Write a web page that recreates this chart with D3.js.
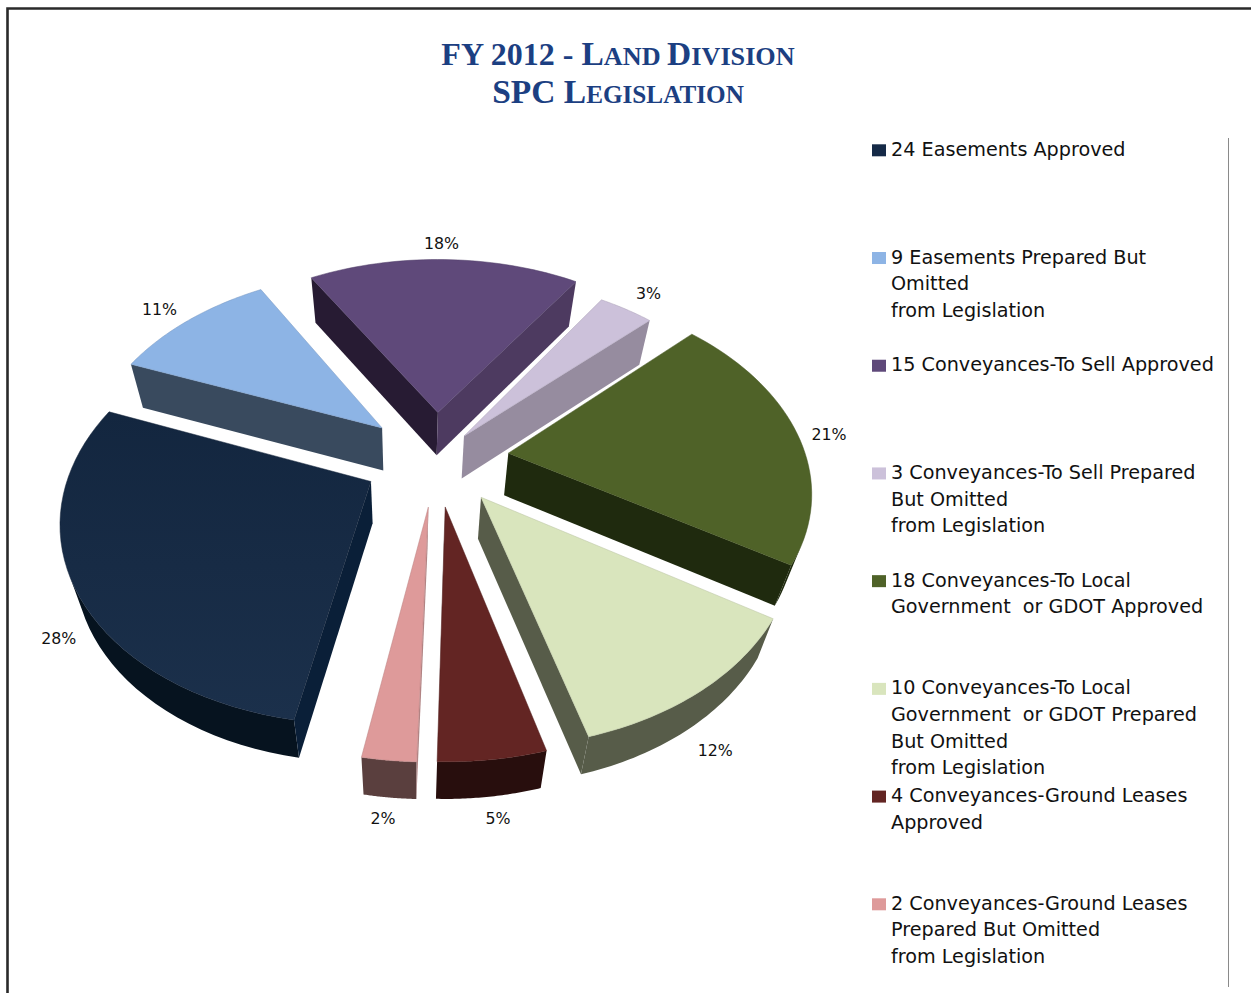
<!DOCTYPE html>
<html>
<head>
<meta charset="utf-8">
<script src="https://cdnjs.cloudflare.com/ajax/libs/d3/7.8.5/d3.min.js"></script>
<style>
  html, body { margin: 0; padding: 0; background: #fff; }
  svg { display: block; }
</style>
</head>
<body>
<svg id="chart" width="1251" height="993"></svg>
<script>
// Land Division SPC legislation counts for FY 2012 and their printed percentages
const counts = [24, 9, 15, 3, 18, 10, 4, 2];
const percentLabels = ["28%", "11%", "18%", "3%", "21%", "12%", "5%", "2%"];
const legendLines = [
  ["24 Easements Approved"],
  ["9 Easements Prepared But", "Omitted", "from Legislation"],
  ["15 Conveyances-To Sell Approved"],
  ["3 Conveyances-To Sell Prepared", "But Omitted", "from Legislation"],
  ["18 Conveyances-To Local", "Government  or GDOT Approved"],
  ["10 Conveyances-To Local", "Government  or GDOT Prepared", "But Omitted", "from Legislation"],
  ["4 Conveyances-Ground Leases", "Approved"],
  ["2 Conveyances-Ground Leases", "Prepared But Omitted", "from Legislation"]
];
const topColors   = ["#182c47", "#8db4e5", "#5f497a", "#ccc1da", "#4f6228", "#d9e5bd", "#632523", "#de9a9a"];
const wallColors  = ["#06131f", "#394a5e", "#271b33", "#968c9f", "#1f2a0e", "#575c49", "#280e0d", "#5a3f3e"];
const startColors = ["#0a1f38", "#394a5e", "#271b33", "#968c9f", "#1f2a0e", "#575c49", "#280e0d", "#b08484"];
const endColors   = ["#0a1f38", "#394a5e", "#4d3a60", "#968c9f", "#1f2a0e", "#575c49", "#280e0d", "#5a3f3e"];
const legendSwatches = ["#152a47", "#8db4e5", "#5f497a", "#ccc1da", "#4f6228", "#d9e5bd", "#632523", "#de9a9a"];
const explodeBy = [0.245, 0.245, 0.245, 0.15, 0.245, 0.245, 0.245, 0.245];

// Tilted view of the pie: a homography from the unit disc to the page
const view = { cx: 436, cy: 458, sx: 298, sy: 193, persp: 0.169, first: 190 };
const project = (x, y) => {
  const w = 1 - view.persp * y;
  return [view.cx + view.sx * x / w, view.cy + view.sy * y / w];
};
// Lower rim of a point on the top face, converging towards the vanishing point
const drop = ([x, y]) => [x + (410 - x) * 0.043, y + 42 - 0.016 * (y - 460)];

const svg = d3.select("#chart");
const polygon = d3.line().curve(d3.curveLinearClosed);
// Positive when the points run clockwise on the page
const turn = pts => -d3.polygonArea(pts);

const toRad = d => d * Math.PI / 180;
const pie = d3.pie().sort(null).value(d => d)
  .startAngle(toRad(view.first)).endAngle(toRad(view.first + 360));

const slices = pie(counts).map((arc, i) => {
  const mid = (arc.startAngle + arc.endAngle) / 2;
  const ox = explodeBy[i] * Math.sin(mid), oy = -explodeBy[i] * Math.cos(mid);
  const at = (t, r) => project(ox + r * Math.sin(t), oy - r * Math.cos(t));
  const samples = d3.range(0, 41).map(k => arc.startAngle + (arc.endAngle - arc.startAngle) * k / 40);
  return { i, arc, mid, at, rim: samples.map(t => at(t, 1)), apex: at(0, 0) };
});

// Back slices first so nearer ones paint over them
const ordered = slices.slice().sort((a, b) => a.apex[1] - b.apex[1]);

const defs = svg.append("defs");
const navy = defs.append("linearGradient").attr("id", "navyTop")
  .attr("x1", 0).attr("y1", 0).attr("x2", 0).attr("y2", 1);
navy.append("stop").attr("offset", 0).attr("stop-color", "#13263f");
navy.append("stop").attr("offset", 1).attr("stop-color", "#1b304b");

const pieGroup = svg.append("g");
ordered.forEach(s => {
  const g = pieGroup.append("g");
  const first = s.rim[0], last = s.rim[s.rim.length - 1];

  // Outer wall: only the stretch of the rim facing the viewer
  let run = [];
  const flush = () => {
    if (run.length > 1) {
      const pts = run.concat(run.slice().reverse().map(p => drop(p)));
      g.append("path").attr("d", polygon(pts)).attr("fill", wallColors[s.i]);
    }
    run = [];
  };
  for (let k = 0; k < s.rim.length - 1; k++) {
    const a = s.rim[k], b = s.rim[k + 1];
    if (turn([a, b, drop(b), drop(a)]) < 0) {
      if (!run.length) run.push(a);
      run.push(b);
    } else flush();
  }
  flush();

  // Cut faces along the two radii
  const startFace = [s.apex, first, drop(first), drop(s.apex)];
  const endFace = [s.apex, last, drop(last), drop(s.apex)];
  if (turn(startFace) < 0) {
    g.append("path").attr("d", polygon(startFace)).attr("fill", startColors[s.i]);
  }
  if (turn(endFace) > 0) {
    g.append("path").attr("d", polygon(endFace)).attr("fill", endColors[s.i]);
  }

  // Top face
  g.append("path")
    .attr("d", polygon([s.apex, ...s.rim]))
    .attr("fill", s.i === 0 ? "url(#navyTop)" : topColors[s.i])
    .attr("stroke", d3.color(topColors[s.i]).darker(0.5))
    .attr("stroke-width", 0.5);
});

// Percentage labels sit just outside each slice's arc
const labelFont = "'DejaVu Sans', sans-serif";
const labelPush = [1.12, 1.07, 1.06, 1.10, 1.08, 1.10, 1.14, 1.14];
const labelNudge = [[23, 37], [-17, -3], [-3, -7], [8, -4], [9, 3], [-13, 39], [-3, 16], [1, 15]];
svg.append("g").selectAll("text").data(slices).join("text")
  .attr("x", d => d.at(d.mid, labelPush[d.i])[0] + labelNudge[d.i][0])
  .attr("y", d => d.at(d.mid, labelPush[d.i])[1] + labelNudge[d.i][1])
  .attr("text-anchor", "middle")
  .attr("dominant-baseline", "middle")
  .attr("font-family", labelFont)
  .attr("font-size", 15.8)
  .attr("fill", "#111")
  .text(d => percentLabels[d.i]);

// Legend column
const legendY = d3.scaleLinear().domain([0, legendLines.length - 1]).range([150.3, 904.3]);
const rowStep = 26.6;
const legend = svg.append("g").selectAll("g").data(legendLines).join("g")
  .attr("transform", (d, i) => `translate(872,${legendY(i)})`);
legend.append("rect")
  .attr("x", 0).attr("y", -6).attr("width", 14).attr("height", 12)
  .attr("fill", (d, i) => legendSwatches[i]);
legend.selectAll("text").data(d => d).join("text")
  .attr("x", 19)
  .attr("y", (d, i) => i * rowStep)
  .attr("dominant-baseline", "middle")
  .attr("font-family", labelFont)
  .attr("font-size", 19.2)
  .attr("fill", "#111")
  .style("white-space", "pre")
  .text(d => d);

// Two-line heading with small capitals
const titleLines = [
  [["FY 2012 - ", 32], ["L", 33.5], ["AND ", 26.2], ["D", 33.5], ["IVISION", 26.2]],
  [["SPC ", 33.5], ["L", 33.5], ["EGISLATION", 25.2]]
];
const titleBase = [64.5, 102.5];
const title = svg.append("g").selectAll("text").data(titleLines).join("text")
  .attr("x", 618)
  .attr("y", (d, i) => titleBase[i])
  .attr("text-anchor", "middle")
  .attr("font-family", "'Liberation Serif', serif")
  .attr("font-weight", "bold")
  .attr("fill", "#1c3f82");
title.selectAll("tspan").data(d => d).join("tspan")
  .attr("font-size", d => d[1])
  .style("white-space", "pre")
  .text(d => d[0]);

// Frame rules
svg.append("path").attr("d", "M7.5,993V8.5H1251").attr("fill", "none")
  .attr("stroke", "#2a2a2a").attr("stroke-width", 2.6);
svg.append("line").attr("x1", 1228.5).attr("x2", 1228.5).attr("y1", 138).attr("y2", 987)
  .attr("stroke", "#8a8a8a").attr("stroke-width", 1);
</script>
</body>
</html>
